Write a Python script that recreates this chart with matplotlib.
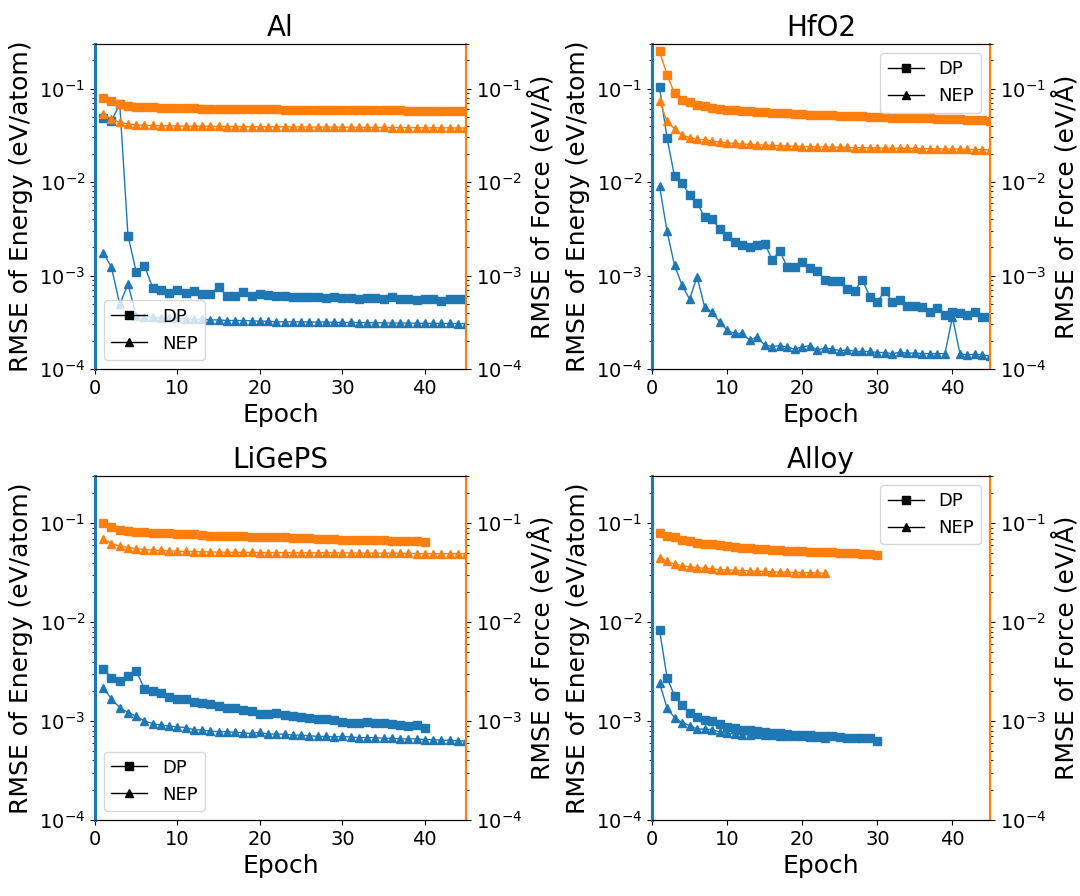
import numpy as np
import matplotlib
matplotlib.use("Agg")
import matplotlib.pyplot as plt
from matplotlib.lines import Line2D

# Datos --------------------------------------------------------------------------------------
# Al
al_dp_e = [0.048, 0.045, 0.0686, 0.00268, 0.00109, 0.00127, 0.00074, 0.00070, 0.00065, 0.00070,
           0.00065, 0.00069, 0.00063, 0.00063, 0.00076, 0.00060, 0.00060, 0.00067, 0.00060, 0.00063,
           0.00062, 0.00060, 0.00060, 0.00059, 0.00059, 0.00059, 0.00059, 0.00058, 0.00059, 0.00058,
           0.00058, 0.00056, 0.00058, 0.00058, 0.00056, 0.00059, 0.00056, 0.00056, 0.00055, 0.00056,
           0.00056, 0.00054, 0.00056, 0.00056, 0.00056]
al_nep_e = [0.00176, 0.00122, 0.00049, 0.00081, 0.00037, 0.00036, 0.000357, 0.000352, 0.00035, 0.00035,
            0.000342, 0.00034, 0.00034, 0.000335, 0.000335, 0.00033, 0.00033, 0.00033, 0.000328, 0.000325,
            0.000325, 0.00032, 0.00032, 0.00032, 0.00032, 0.000318, 0.000318, 0.000318, 0.000316, 0.000315,
            0.000315, 0.000314, 0.000313, 0.000312, 0.000312, 0.00031, 0.00031, 0.00031, 0.000309, 0.000308,
            0.000308, 0.000307, 0.000307, 0.000306, 0.000306]
al_dp_f = [0.0794, 0.0744, 0.0686, 0.0658, 0.0642, 0.0632, 0.0630, 0.0621, 0.0621, 0.0617,
           0.0617, 0.0614, 0.0612, 0.0610, 0.0610, 0.0607, 0.0605, 0.0605, 0.0603, 0.0600,
           0.0600, 0.0598, 0.0597, 0.0596, 0.0595, 0.0594, 0.0593, 0.0592, 0.0591, 0.0590,
           0.0589, 0.0588, 0.0587, 0.0586, 0.0585, 0.0584, 0.0583, 0.0582, 0.0581, 0.0580,
           0.0579, 0.0578, 0.0577, 0.0576, 0.0575]
al_nep_f = [0.0536, 0.0473, 0.0436, 0.0418, 0.0410, 0.0405, 0.0403, 0.0401, 0.0400, 0.0398,
            0.0397, 0.0396, 0.0395, 0.0395, 0.0394, 0.0393, 0.0393, 0.0392, 0.0392, 0.0391,
            0.0391, 0.0390, 0.0390, 0.0389, 0.0389, 0.0388, 0.0388, 0.0387, 0.0387, 0.0386,
            0.0386, 0.0385, 0.0385, 0.0384, 0.0384, 0.0383, 0.0383, 0.0382, 0.0382, 0.0381,
            0.0381, 0.0380, 0.0380, 0.0379, 0.0379]

# HfO2
hf_dp_e = [0.103, 0.0297, 0.0115, 0.00975, 0.00732, 0.00597, 0.00423, 0.00399, 0.00318, 0.00263,
           0.00227, 0.00214, 0.00202, 0.00212, 0.0022, 0.00148, 0.00182, 0.00124, 0.00122, 0.00138,
           0.00121, 0.00111, 0.000906, 0.00088, 0.00088, 0.000726, 0.000686, 0.000906, 0.000592, 0.000524,
           0.000686, 0.000524, 0.000545, 0.000475, 0.000475, 0.000464, 0.000403, 0.000453, 0.000377, 0.000405,
           0.000396, 0.000377, 0.000405, 0.000356, 0.00036]
hf_nep_e = [0.00914, 0.00297, 0.00129, 0.000788, 0.000559, 0.000968, 0.000463, 0.000403, 0.00032, 0.00026,
            0.00024, 0.00024, 0.000204, 0.00022, 0.00018, 0.000174, 0.000178, 0.000172, 0.000163, 0.000172,
            0.000178, 0.00016, 0.000167, 0.000164, 0.000157, 0.00016, 0.000154, 0.000154, 0.000154, 0.00015,
            0.00015, 0.000146, 0.000151, 0.000148, 0.000148, 0.000146, 0.000146, 0.000146, 0.000146, 0.00036,
            0.000145, 0.000142, 0.000144, 0.000142, 0.000137]
hf_dp_f = [0.25, 0.141, 0.089, 0.076, 0.0726, 0.0674, 0.065, 0.0622, 0.061, 0.0597,
           0.0588, 0.058, 0.0571, 0.0567, 0.0558, 0.0550, 0.0546, 0.0542, 0.0537, 0.0532,
           0.0528, 0.0524, 0.0520, 0.0516, 0.0512, 0.0508, 0.0504, 0.0504, 0.0500, 0.0494,
           0.0492, 0.0490, 0.0488, 0.0486, 0.0484, 0.0482, 0.0480, 0.0478, 0.0476, 0.0474,
           0.0470, 0.0467, 0.0463, 0.0459, 0.0455]
hf_nep_f = [0.0744, 0.0445, 0.0371, 0.032, 0.0297, 0.0288, 0.0284, 0.0274, 0.0268, 0.0263,
            0.0259, 0.0255, 0.0253, 0.0250, 0.0248, 0.0247, 0.0245, 0.0243, 0.0242, 0.0240,
            0.0239, 0.0238, 0.0237, 0.0236, 0.0236, 0.0235, 0.0234, 0.0233, 0.0232, 0.0231,
            0.0231, 0.0230, 0.0230, 0.0229, 0.0229, 0.0228, 0.0227, 0.0226, 0.0226, 0.0225,
            0.0224, 0.0224, 0.0223, 0.0222, 0.0221]

# LiGePS
li_dp_e = [0.00334, 0.00275, 0.00255, 0.00286, 0.00321, 0.00211, 0.00202, 0.0019, 0.00176, 0.00168,
           0.00167, 0.00157, 0.00151, 0.00149, 0.00142, 0.00137, 0.00134, 0.0013, 0.00126, 0.00119,
           0.00118, 0.00121, 0.00115, 0.00113, 0.00109, 0.00107, 0.00105, 0.00104, 0.00102, 0.00097,
           0.00096, 0.00096, 0.00097, 0.00095, 0.00095, 0.00093, 0.00091, 0.00089, 0.00091, 0.000845]
li_nep_e = [0.00218, 0.00167, 0.00137, 0.00122, 0.00112, 0.00100, 0.000942, 0.00091, 0.00089, 0.000873,
            0.00086, 0.00082, 0.00081, 0.00079, 0.00078, 0.00078, 0.00077, 0.00076, 0.00075, 0.00077,
            0.000736, 0.00074, 0.000736, 0.00072, 0.00072, 0.00071, 0.0007, 0.0007, 0.00069, 0.0007,
            0.00069, 0.00068, 0.00068, 0.00068, 0.00067, 0.00067, 0.00066, 0.00066, 0.00066, 0.00065,
            0.00065, 0.00064, 0.00064, 0.00063, 0.00063]
li_dp_f = [0.1, 0.0918, 0.0863, 0.0837, 0.0824, 0.0811, 0.0805, 0.0799, 0.0787, 0.078,
           0.0775, 0.0769, 0.0763, 0.075, 0.0745, 0.0745, 0.0739, 0.0739, 0.0728, 0.0728,
           0.0722, 0.0717, 0.0717, 0.0712, 0.0707, 0.0701, 0.0696, 0.0696, 0.069, 0.0684,
           0.0684, 0.068, 0.0675, 0.0675, 0.067, 0.0665, 0.0665, 0.066, 0.066, 0.0653]
li_nep_f = [0.070, 0.0622, 0.0586, 0.0568, 0.0555, 0.0542, 0.0534, 0.053, 0.0526, 0.052,
            0.0518, 0.0516, 0.0514, 0.0512, 0.051, 0.0509, 0.0508, 0.0507, 0.0506, 0.0505,
            0.0505, 0.0504, 0.0504, 0.0503, 0.0503, 0.0502, 0.0502, 0.0502, 0.0501, 0.0501,
            0.05, 0.05, 0.0499, 0.0499, 0.0498, 0.0497, 0.0496, 0.0495, 0.0494, 0.0493,
            0.0492, 0.0492, 0.0491, 0.049, 0.049]

# Alloy
all_dp_e = [0.00841, 0.00275, 0.0018, 0.00144, 0.00122, 0.0011, 0.00102, 0.000996, 0.000929, 0.00087,
            0.00085, 0.00082, 0.00082, 0.0008, 0.000776, 0.00076, 0.00075, 0.00074, 0.00072, 0.00072,
            0.00072, 0.00071, 0.0007, 0.0007, 0.00069, 0.00068, 0.00068, 0.00067, 0.00067, 0.00063]
all_nep_e = [0.00243, 0.00136, 0.00108, 0.000966, 0.0009, 0.000832, 0.00083, 0.00082, 0.000776, 0.00075,
             0.00074, 0.00073, 0.000723, 0.00074, 0.000723, 0.00072, 0.00071, 0.0007, 0.0007, 0.0007,
             0.00069, 0.00069, 0.00068]
all_dp_f = [0.0805, 0.0745, 0.0717, 0.0684, 0.0663, 0.0638, 0.0623, 0.0614, 0.0604, 0.059,
            0.0576, 0.0567, 0.0558, 0.0554, 0.0546, 0.0541, 0.0533, 0.0529, 0.0525, 0.0521,
            0.0517, 0.0513, 0.0509, 0.0509, 0.0505, 0.0501, 0.0498, 0.0494, 0.0494, 0.0482]
all_nep_f = [0.045, 0.0413, 0.0385, 0.0372, 0.0362, 0.0355, 0.035, 0.0345, 0.034, 0.0337,
             0.0335, 0.0332, 0.033, 0.0327, 0.0325, 0.0322, 0.032, 0.032, 0.0317, 0.0317,
             0.0315, 0.0315, 0.0312]

# Figura -------------------------------------------------------------------------------------
fig = plt.figure(figsize=(10.8, 8.96), dpi=100)


def epochs(v):
    return np.arange(1, len(v) + 1)


def draw_panel(rect, title, dp_e, nep_e, dp_f, nep_f, legend_loc):
    ax = fig.add_axes(rect)
    ax2 = ax.twinx()

    ax.plot(epochs(dp_e), dp_e, color='C0', marker='s', ms=6, lw=1)
    ax.plot(epochs(nep_e), nep_e, color='C0', marker='^', ms=6, lw=1)
    ax2.plot(epochs(dp_f), dp_f, color='C1', marker='s', ms=6, lw=1)
    ax2.plot(epochs(nep_f), nep_f, color='C1', marker='^', ms=6, lw=1)

    for a in (ax, ax2):
        a.set_yscale('log')
        a.set_ylim(1e-4, 0.3)
        a.set_xlim(0, 45)
        a.tick_params(labelsize=14)
        a.spines['left'].set_color('C0')
        a.spines['left'].set_linewidth(2.2)
        a.spines['right'].set_color('C1')
        a.spines['right'].set_linewidth(1.5)

    ax.set_xticks([0, 10, 20, 30, 40])
    ax.set_title(title, fontsize=20)
    ax.set_xlabel('Epoch', fontsize=18)
    ax.set_ylabel('RMSE of Energy (eV/atom)', fontsize=18)
    ax2.set_ylabel('RMSE of Force (eV/Å)', fontsize=18)

    handles = [Line2D([], [], color='k', marker='s', ms=6, lw=1, label='DP'),
               Line2D([], [], color='k', marker='^', ms=6, lw=1, label='NEP')]
    ax2.legend(handles=handles, loc=legend_loc, fontsize=13)


top_y, top_h = 527 / 896, 325 / 896
bot_y, bot_h = 76 / 896, 344 / 896
left_x, left_w = 95 / 1080, 371 / 1080
right_x, right_w = 652 / 1080, 338 / 1080

draw_panel([left_x, top_y, left_w, top_h], 'Al', al_dp_e, al_nep_e, al_dp_f, al_nep_f, 'lower left')
draw_panel([right_x, top_y, right_w, top_h], 'HfO2', hf_dp_e, hf_nep_e, hf_dp_f, hf_nep_f, 'upper right')
draw_panel([left_x, bot_y, left_w, bot_h], 'LiGePS', li_dp_e, li_nep_e, li_dp_f, li_nep_f, 'lower left')
draw_panel([right_x, bot_y, right_w, bot_h], 'Alloy', all_dp_e, all_nep_e, all_dp_f, all_nep_f, 'upper right')

fig.savefig('out.png', dpi=100)
